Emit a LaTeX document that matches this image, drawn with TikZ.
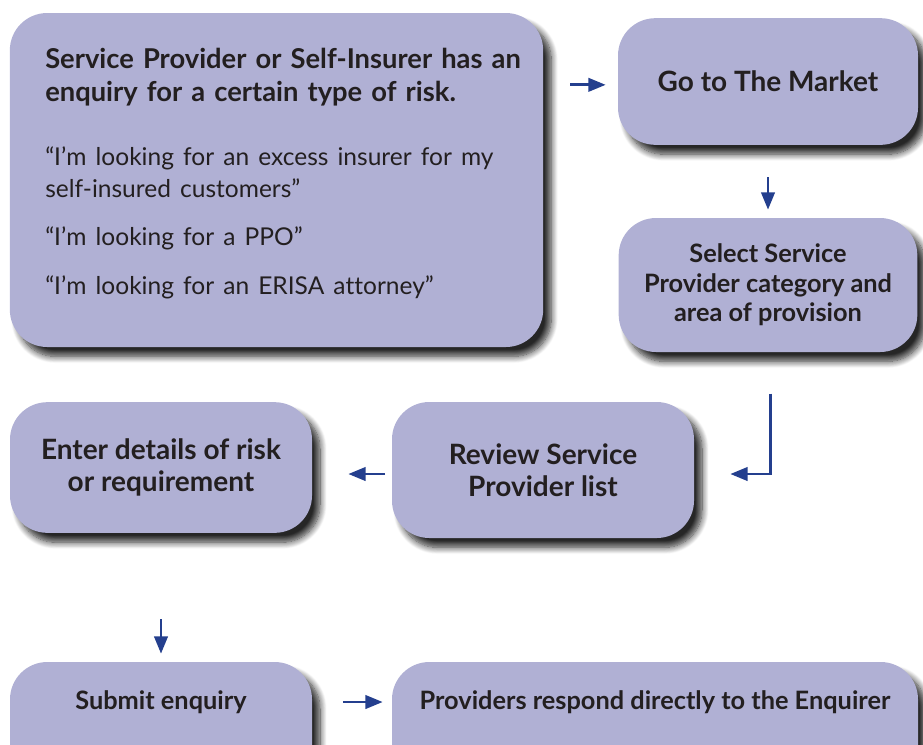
\documentclass[tikz,border=0pt]{standalone}
\usepackage{fontspec}
\setmainfont{Lato}[Ligatures=NoCommon]
\usetikzlibrary{positioning,shadows.blur,arrows.meta}

\definecolor{boxfill}{HTML}{B0B0D4}
\definecolor{flowblue}{HTML}{243F8E}
\definecolor{inkdark}{HTML}{231F20}

\tikzset{
  stepbox/.style={fill=boxfill, rounded corners=28pt, inner sep=0pt,
    blur shadow={shadow xshift=6pt, shadow yshift=-7pt, shadow blur steps=10,
      shadow blur radius=5pt, shadow opacity=85}},
  steptext/.style={text=inkdark, align=center, inner sep=0pt,
    font=\bfseries\fontsize{21}{24}\selectfont},
  flow/.style={draw=flowblue, line width=2.2pt, -{Triangle[length=13pt,width=10pt]}}
}

\begin{document}
\begin{tikzpicture}[x=0.75pt,y=-0.75pt]
\useasboundingbox (0,0) rectangle (923,744);

% boxes
\node[stepbox, minimum width=400pt, minimum height=250.5pt] (enquiry) at (276.5,180) {};
\node[stepbox, minimum width=225pt, minimum height=95pt] (market) at (768,81.5) {};
\node[stepbox, minimum width=224pt, minimum height=100.5pt] (select) at (768,285) {};
\node[stepbox, minimum width=226.5pt, minimum height=102pt] (review) at (543,470) {};
\node[stepbox, minimum width=226.5pt, minimum height=98pt] (details) at (161,467.5) {};
\node[stepbox, minimum width=226.5pt, minimum height=90pt] (submit) at (161,722) {};
\node[stepbox, minimum width=394.5pt, minimum height=90pt] (respond) at (655,722) {};

% texts
\node[steptext, anchor=north west, align=left, text width=385pt,
  font=\bfseries\fontsize{20.5}{24.75}\selectfont] (enquirytext) at (45,48)
  {Service Provider or Self-Insurer has an\\
   enquiry for a certain type of risk.\\[24pt]
   \normalfont\fontsize{18.4}{24}\selectfont
   “I’m looking for an excess insurer for my\\
   self-insured customers”\\[12pt]
   “I’m looking for a PPO”\\[12pt]
   “I’m looking for an ERISA attorney”};
\node[steptext] (markettext) at (market) {Go to The Market};
\node[steptext, font=\bfseries\fontsize{19}{22}\selectfont] (selecttext) at (select)
  {Select Service\\Provider category and\\area of provision};
\node[steptext] (reviewtext) at (review) {Review Service\\Provider list};
\node[steptext] (detailstext) at (details) {Enter details of risk\\or requirement};
\node[steptext, font=\bfseries\fontsize{19}{22}\selectfont] (submittext) at (161,702) {Submit enquiry};
\node[steptext, font=\bfseries\fontsize{19}{22}\selectfont] (respondtext) at (655,702) {Providers respond directly to the Enquirer};

% arrows
\draw[flow] ([xshift=20pt,yshift=-2.5pt]enquiry.east |- market.west) -- ([xshift=-9pt,yshift=-2.5pt]market.west);
\draw[flow] ([yshift=-24pt]market.south) -- ([yshift=6pt]select.north);
\draw[flow] ([xshift=2pt,yshift=-31pt]select.south) |- ([xshift=27pt,yshift=-3pt]review.east);
\draw[flow] ([xshift=-5pt,yshift=-3pt]review.west) -- ([xshift=27pt,yshift=-3pt]review.west -| details.east);
\draw[flow] ([yshift=-64.5pt]details.south) -- ([yshift=6pt]submit.north);
\draw[flow] (submittext -| submit.east) ++(23pt,0) -- ([xshift=-6.75pt]submittext -| respond.west);
\end{tikzpicture}
\end{document}
